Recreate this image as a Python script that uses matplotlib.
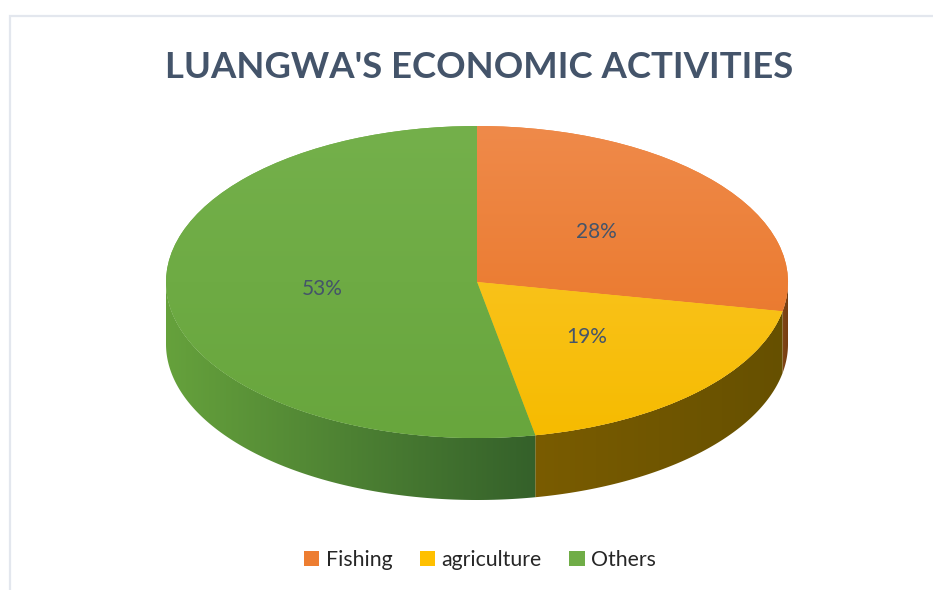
import numpy as np
import matplotlib
matplotlib.use("Agg")
import matplotlib.pyplot as plt
from matplotlib.patches import Polygon, Rectangle
from matplotlib.colors import to_rgb

# ---- data ----
categories = ["Fishing", "agriculture", "Others"]
shares = [28, 19, 53]
title = "LUANGWA'S ECONOMIC ACTIVITIES"

# ---- style ----
top_colors = ["#ED7D31", "#FFC000", "#70AD47"]
top_light = ["#EF8A4A", "#FCC933", "#74B04B"]
top_dark = ["#E8711F", "#F6BB00", "#68A63D"]
side_light = ["#8A4A18", "#7A5C00", "#66A23C"]
side_dark = ["#6E3A10", "#665000", "#34602A"]
title_color = "#44546A"
label_color = "#44546A"
font = "Lato"

W, H, DPI = 933, 590, 100
cx_px, cy_px = 477, 282      # centre of the top face, pixels
rx_px, ry_px = 311, 156      # radii of the top face ellipse, pixels
depth_px = 62                # thickness of the disc, pixels

fig = plt.figure(figsize=(W / DPI, H / DPI), dpi=DPI)
ax = fig.add_axes([0, 0, 1, 1])
XL = (-cx_px / rx_px, (W - cx_px) / rx_px)
YL = ((cy_px - H) / ry_px, cy_px / ry_px)

# chart frame
fig.patches.append(Rectangle((10 / W, -0.1), 1.2, (H - 16) / H + 0.1,
                             transform=fig.transFigure, fill=False,
                             edgecolor="#E3E7EE", linewidth=1.6, zorder=0))

depth = depth_px / ry_px
fr = np.array(shares, dtype=float) / np.sum(shares)
# slices run clockwise from 12 o'clock
bounds = 90 - 360 * np.concatenate([[0], np.cumsum(fr)])

# side wall of each slice along the front half of the disc
for k in range(len(shares)):
    hi = min(bounds[k], 0.0)
    lo = max(bounds[k + 1], -180.0)
    if hi <= lo:
        continue
    th = np.radians(np.linspace(lo, hi, 200))
    top = np.column_stack([np.cos(th), np.sin(th)])
    bot = np.column_stack([np.cos(th), np.sin(th) - depth])[::-1]
    poly = Polygon(np.vstack([top, bot]), closed=True, facecolor="none",
                   edgecolor="none", zorder=1)
    ax.add_patch(poly)
    x0, x1 = np.cos(np.radians(lo)), np.cos(np.radians(hi))
    c1, c2 = np.array(to_rgb(side_light[k])), np.array(to_rgb(side_dark[k]))
    g = np.linspace(0, 1, 256)[None, :, None]
    img = np.repeat(c1 + (c2 - c1) * g, 2, axis=0)
    im = ax.imshow(img, extent=(min(x0, x1) - 0.01, max(x0, x1) + 0.01,
                                -1 - depth - 0.05, 0.05),
                   origin="upper", aspect="auto", zorder=1,
                   interpolation="bilinear")
    im.set_clip_path(poly)

# top face
wedges, texts, autotexts = ax.pie(
    shares, startangle=90, counterclock=False, colors=top_colors,
    radius=1, center=(0, 0), frame=True,
    autopct="%1.0f%%", pctdistance=0.5,
    wedgeprops=dict(linewidth=0, zorder=2),
    textprops=dict(color=label_color, fontsize=15, fontfamily=font))

# soft vertical shading on each slice
ys = np.linspace(0, 1, 256)[:, None, None]
for k, w in enumerate(wedges):
    c1, c2 = np.array(to_rgb(top_light[k])), np.array(to_rgb(top_dark[k]))
    img = np.repeat(c1 + (c2 - c1) * ys, 2, axis=1)
    im = ax.imshow(img, extent=(-1, 1, -1, 1), origin="upper",
                   aspect="auto", zorder=2.5, interpolation="bilinear")
    im.set_clip_path(w)
for t in autotexts:
    t.set_zorder(5)

ax.set_xlim(*XL)
ax.set_ylim(*YL)
ax.set_aspect("auto")
ax.axis("off")

fig.text(479 / W, 1 - 78 / H, title, ha="center", va="baseline",
         fontsize=26.3, fontweight="bold", color=title_color, fontfamily=font)

handles = [Rectangle((0, 0), 1, 1, facecolor=c, edgecolor="none")
           for c in top_colors]
fig.legend(handles, categories, loc="center", ncol=3,
           bbox_to_anchor=(480 / W, 1 - 560 / H), frameon=False,
           prop=dict(family=font, size=15.3), handletextpad=0.3,
           columnspacing=1.3, handlelength=0.72, handleheight=0.72,
           labelcolor="#262626")

fig.savefig("out.png", dpi=DPI)
